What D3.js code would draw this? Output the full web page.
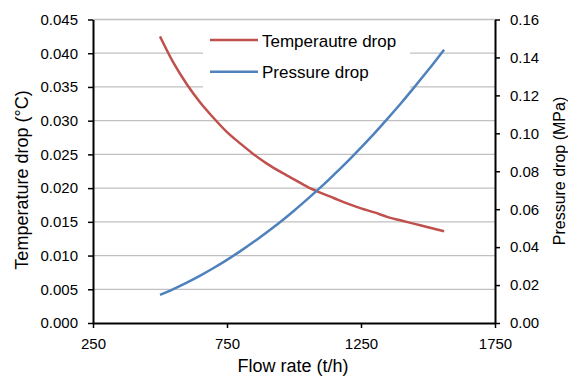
<html>
<head>
<meta charset="utf-8">
<title>Flow rate</title>
<style>
  body { margin: 0; background: #fff; }
  text { font-family: "Liberation Sans", Arial, sans-serif; fill: #000; }
</style>
</head>
<body>
<script src="https://cdn.jsdelivr.net/npm/d3@7"></script>
<script>
// flow rate (t/h)
var flow = [500, 550, 600, 650, 700, 750, 800, 850, 900, 950, 1000, 1050,
            1100, 1150, 1200, 1250, 1300, 1350, 1400, 1450, 1500, 1560];
// temperature drop (oC)
var tempDrop = [0.0425, 0.0386, 0.0354, 0.0327, 0.0304, 0.0283, 0.0266, 0.0250,
                0.0236, 0.0224, 0.0213, 0.0202, 0.0193, 0.0185, 0.0177, 0.0170,
                0.0164, 0.0157, 0.0152, 0.0147, 0.0142, 0.0136];
// pressure drop (MPa)
var pressDrop = [0.0148, 0.0179, 0.0213, 0.0250, 0.0290, 0.0333, 0.0379, 0.0428,
                 0.0480, 0.0534, 0.0592, 0.0653, 0.0716, 0.0783, 0.0852, 0.0925,
                 0.1000, 0.1079, 0.1160, 0.1245, 0.1332, 0.1441];
var xTicks = [250, 750, 1250, 1750];
var leftTicks = [0, 0.005, 0.01, 0.015, 0.02, 0.025, 0.03, 0.035, 0.04, 0.045];
var rightTicks = [0, 0.02, 0.04, 0.06, 0.08, 0.10, 0.12, 0.14, 0.16];
var seriesNames = ["Temperautre drop", "Pressure drop"];
var colors = ["#c0504d", "#4f81bd"];

var width = 568, height = 378;
var mLeft = 93, mRight = 495, mTop = 19.5, mBottom = 323;

var svg = d3.select("body").append("svg")
  .attr("width", width).attr("height", height);

var x = d3.scaleLinear().domain([250, 1750]).range([mLeft, mRight]);
var yL = d3.scaleLinear().domain([0, 0.045]).range([mBottom, mTop]);
var yR = d3.scaleLinear().domain([0, 0.16]).range([mBottom, mTop]);

// gridlines
svg.append("g").selectAll("line")
  .data(leftTicks.slice(1))
  .enter().append("line")
  .attr("x1", mLeft).attr("x2", mRight)
  .attr("y1", function(d){ return yL(d); })
  .attr("y2", function(d){ return yL(d); })
  .attr("stroke", "#c0c0c0").attr("stroke-width", 1.3);

// legend background hides the grid behind it
var lg = svg.append("g");
lg.append("rect").attr("x", 203).attr("y", 25).attr("width", 207).attr("height", 63)
  .attr("fill", "#fff");

// lines
var series = [tempDrop, pressDrop];
var scales = [yL, yR];
series.forEach(function(s, k) {
  var line = d3.line()
    .x(function(d, i){ return x(flow[i]); })
    .y(function(d){ return scales[k](d); })
    .curve(d3.curveMonotoneX);
  svg.append("path")
    .attr("d", line(s))
    .attr("fill", "none")
    .attr("stroke", colors[k])
    .attr("stroke-width", 2.5);
});

// axes
function styleAxis(g) {
  g.selectAll("path").attr("stroke", "#000").attr("stroke-width", 2);
  g.selectAll("line").attr("stroke", "#000").attr("stroke-width", 1.5);
  g.selectAll("text").attr("font-size", 15).attr("font-family", "Liberation Sans, Arial, sans-serif");
}
svg.append("g").attr("transform", "translate(0," + mBottom + ")")
  .call(d3.axisBottom(x).tickValues(xTicks).tickFormat(d3.format("d")).tickSize(5).tickSizeOuter(0).tickPadding(10))
  .call(styleAxis);
svg.append("g").attr("transform", "translate(" + mLeft + ",0)")
  .call(d3.axisLeft(yL).tickValues(leftTicks).tickFormat(d3.format(".3f")).tickSize(5).tickSizeOuter(0).tickPadding(10))
  .call(styleAxis);
svg.append("g").attr("transform", "translate(" + mRight + ",0)")
  .call(d3.axisRight(yR).tickValues(rightTicks).tickFormat(d3.format(".2f")).tickSize(5).tickSizeOuter(0).tickPadding(10))
  .call(styleAxis);

// axis titles
svg.append("text").attr("x", 293).attr("y", 372)
  .attr("text-anchor", "middle").attr("font-size", 18).text("Flow rate (t/h)");
svg.append("text").attr("transform", "translate(28,180) rotate(-90)")
  .attr("text-anchor", "middle").attr("font-size", 18).text("Temperature drop (°C)");
svg.append("text").attr("transform", "translate(565,171) rotate(-90)")
  .attr("text-anchor", "middle").attr("font-size", 16).text("Pressure drop (MPa)");

// legend entries
seriesNames.forEach(function(name, i) {
  var yy = 40 + i * 31.7;
  lg.append("line").attr("x1", 210).attr("x2", 258).attr("y1", yy).attr("y2", yy)
    .attr("stroke", colors[i]).attr("stroke-width", 2.5);
  lg.append("text").attr("x", 262).attr("y", yy + 6.5).attr("font-size", 17).text(name);
});
</script>
</body>
</html>
